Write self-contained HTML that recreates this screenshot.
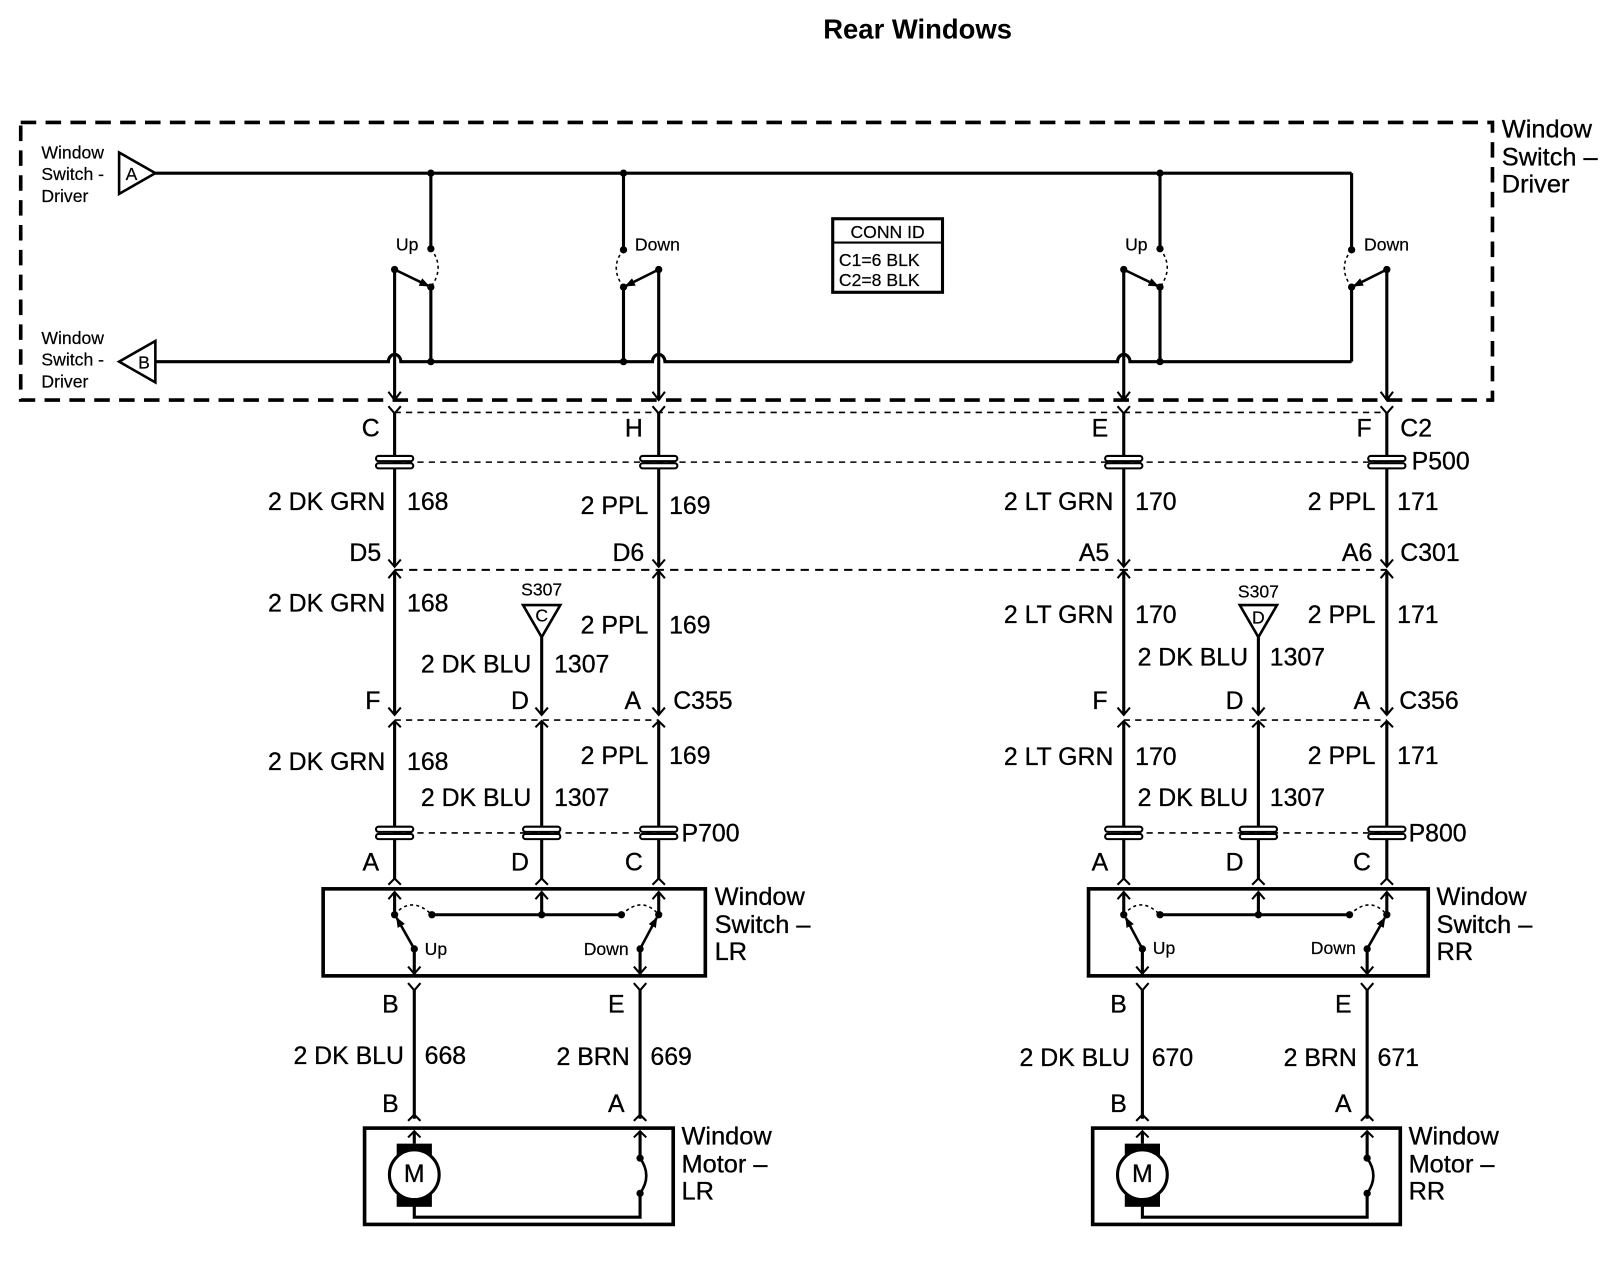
<!DOCTYPE html>
<html><head><meta charset="utf-8"><style>
html,body{margin:0;padding:0;background:#fff}
svg{display:block}
text{font-family:"Liberation Sans",Arial,sans-serif;fill:#000;dominant-baseline:central}
.L{font-size:24px;stroke:#000;stroke-width:0.3}
.S{font-size:17px;stroke:#000;stroke-width:0.2}
.M{font-size:24.5px;stroke:#000;stroke-width:0.3}
</style></head><body>
<svg width="1624" height="1264" viewBox="0 0 1568 1220" xmlns="http://www.w3.org/2000/svg">
<defs>
<marker id="ah" markerWidth="10" markerHeight="10" refX="9" refY="5" orient="auto" markerUnits="userSpaceOnUse"><path d="M0,1 L10,5 L0,9 Z" fill="#000"/></marker>
</defs>
<rect width="1568" height="1220" fill="#fff"/>
<text x="886" y="28" text-anchor="middle" style="font-size:26.5px;font-weight:bold">Rear Windows</text>

<rect x="20" y="118" width="1421" height="268" fill="none" stroke="#000" stroke-width="3.5" stroke-dasharray="15 9"/>
<g class="S"><text x="40" y="147">Window</text><text x="40" y="168">Switch -</text><text x="40" y="189">Driver</text>
<text x="40" y="326">Window</text><text x="40" y="347">Switch -</text><text x="40" y="368">Driver</text>
<text x="127" y="168" text-anchor="middle">A</text><text x="139" y="350" text-anchor="middle">B</text></g>
<g class="M"><text x="1450" y="125">Window</text><text x="1450" y="152">Switch –</text><text x="1450" y="178">Driver</text></g>

<g stroke="#000" stroke-width="3" fill="none">
<polygon points="115,147 150,167 115,187" stroke-width="2.5"/>
<polygon points="150,329 115,349 150,369" stroke-width="2.5"/>
<line x1="150" y1="167" x2="1305" y2="167"/>
<path d="M150 349 H375 A6 7 0 0 1 387 349 H630 A6 7 0 0 1 642 349 H1079 A6 7 0 0 1 1091 349 H1305"/>
<path d="M416 167 V240 M416 277 V349 M602 167 V241 M602 277 V349 M1120 167 V240 M1120 277 V349 M1305 167 V241 M1305 277 V349"/>
<path d="M416 240 Q430 258 416 277 M602 241 Q588 258 602 277 M1120 240 Q1134 258 1120 277 M1305 241 Q1291 258 1305 277" stroke-width="1.5" stroke-dasharray="3 3"/>
<line x1="381" y1="260" x2="414" y2="276" stroke-width="2.5" marker-end="url(#ah)"/>
<line x1="636" y1="260" x2="604" y2="276" stroke-width="2.5" marker-end="url(#ah)"/>
<line x1="1085" y1="260" x2="1118" y2="276" stroke-width="2.5" marker-end="url(#ah)"/>
<line x1="1339" y1="260" x2="1307" y2="276" stroke-width="2.5" marker-end="url(#ah)"/>
<path d="M381 260 V386 M636 260 V386 M1085 260 V386 M1339 260 V386"/>
<path d="M375 378 L381 386 L387 378 M630 378 L636 386 L642 378 M1079 378 L1085 386 L1091 378 M1333 378 L1339 386 L1345 378" stroke-width="2"/>
<path d="M381 398 V546 M636 398 V546 M1085 398 V546 M1339 398 V546"/>
<path d="M375 392 L381 399 L387 392 M630 392 L636 399 L642 392 M1079 392 L1085 399 L1091 392 M1333 392 L1339 399 L1345 392" stroke-width="2"/>
<line x1="381" y1="398" x2="1339" y2="398" stroke-width="1.5" stroke-dasharray="6 5"/>
<line x1="381" y1="446" x2="1339" y2="446" stroke-width="1.5" stroke-dasharray="6 5"/>
<line x1="381" y1="550" x2="1339" y2="550" stroke-width="2" stroke-dasharray="8 6"/>
<path d="M375 540 L381 547 L387 540 M630 540 L636 547 L642 540 M1079 540 L1085 547 L1091 540 M1333 540 L1339 547 L1345 540" stroke-width="2"/>
<path d="M375 558 L381 551 L387 558 M630 558 L636 551 L642 558 M1079 558 L1085 551 L1091 558 M1333 558 L1339 551 L1345 558" stroke-width="2"/>
<path d="M381 551 V690 M636 551 V690 M1085 551 V690 M1339 551 V690 M523 615 V690 M1215 615 V690"/>
<polygon points="505,584 541,584 523,615" stroke-width="2.5"/>
<polygon points="1197,584 1233,584 1215,615" stroke-width="2.5"/>
<path d="M375 683 L381 690 L387 683 M630 683 L636 690 L642 683 M517 683 L523 690 L529 683 M1079 683 L1085 690 L1091 683 M1333 683 L1339 690 L1345 683 M1209 683 L1215 690 L1221 683" stroke-width="2"/>
<line x1="381" y1="695" x2="636" y2="695" stroke-width="1.5" stroke-dasharray="6 5"/>
<line x1="1085" y1="695" x2="1339" y2="695" stroke-width="1.5" stroke-dasharray="6 5"/>
<path d="M375 702 L381 696 L387 702 M630 702 L636 696 L642 702 M517 702 L523 696 L529 702 M1079 702 L1085 696 L1091 702 M1333 702 L1339 696 L1345 702 M1209 702 L1215 696 L1221 702" stroke-width="2"/>
<path d="M381 696 V848 M636 696 V848 M523 696 V848 M1085 696 V848 M1339 696 V848 M1215 696 V848"/>
<line x1="381" y1="804" x2="636" y2="804" stroke-width="1.5" stroke-dasharray="6 5"/>
<line x1="1085" y1="804" x2="1339" y2="804" stroke-width="1.5" stroke-dasharray="6 5"/>
<path d="M375 854 L381 848 L387 854 M517 854 L523 848 L529 854 M630 854 L636 848 L642 854 M1079 854 L1085 848 L1091 854 M1209 854 L1215 848 L1221 854 M1333 854 L1339 848 L1345 854" stroke-width="2"/>

<rect x="312" y="858" width="369" height="84" stroke-width="3.5"/>
<rect x="1051" y="858" width="328" height="84" stroke-width="3.5"/>
<path d="M381 883 V862 M523 883 V862 M636 883 V862 M417 883 H600 M1085 883 V862 M1215 883 V862 M1339 883 V862 M1120 883 H1303"/>
<path d="M375 868 L381 861 L387 868 M517 868 L523 861 L529 868 M630 868 L636 861 L642 868 M1079 868 L1085 861 L1091 868 M1209 868 L1215 861 L1221 868 M1333 868 L1339 861 L1345 868" stroke-width="2"/>
<path d="M381 883 Q397 864 417 883 M600 883 Q620 864 636 883 M1085 883 Q1101 864 1120 883 M1303 883 Q1323 864 1339 883" stroke-width="1.5" stroke-dasharray="3 3"/>
<line x1="400" y1="916" x2="383" y2="886" stroke-width="2.5" marker-end="url(#ah)"/>
<line x1="618" y1="916" x2="634" y2="886" stroke-width="2.5" marker-end="url(#ah)"/>
<line x1="1103" y1="916" x2="1087" y2="886" stroke-width="2.5" marker-end="url(#ah)"/>
<line x1="1320" y1="916" x2="1337" y2="886" stroke-width="2.5" marker-end="url(#ah)"/>
<path d="M400 916 V940 M618 916 V940 M1103 916 V940 M1320 916 V940"/>
<path d="M394 933 L400 940 L406 933 M612 933 L618 940 L624 933 M1097 933 L1103 940 L1109 933 M1314 933 L1320 940 L1326 933" stroke-width="2"/>
<path d="M400 955 V1080 M618 955 V1080 M1103 955 V1080 M1320 955 V1080"/>
<path d="M394 949 L400 956 L406 949 M612 949 L618 956 L624 949 M1097 949 L1103 956 L1109 949 M1314 949 L1320 956 L1326 949" stroke-width="2"/>
<path d="M394 1082 L400 1076 L406 1082 M612 1082 L618 1076 L624 1082 M1097 1082 L1103 1076 L1109 1082 M1314 1082 L1320 1076 L1326 1082" stroke-width="2"/>
<rect x="352" y="1089" width="298" height="93" stroke-width="3.5"/>
<rect x="1055" y="1089" width="297" height="93" stroke-width="3.5"/>
<path d="M400 1092 V1104 M400 1164 V1175 H618 V1152 M618 1118 V1092 M1103 1092 V1104 M1103 1164 V1175 H1320 V1152 M1320 1118 V1092"/>
<path d="M394 1098 L400 1092 L406 1098 M612 1098 L618 1092 L624 1098 M1097 1098 L1103 1092 L1109 1098 M1314 1098 L1320 1092 L1326 1098" stroke-width="2"/>
<path d="M618 1118 Q630 1135 618 1152 M1320 1118 Q1332 1135 1320 1152" stroke-width="2.5"/>
</g>
<g fill="#000">
<rect x="383" y="1104" width="34" height="12"/><rect x="383" y="1153" width="34" height="12"/>
<rect x="1086" y="1104" width="34" height="12"/><rect x="1086" y="1153" width="34" height="12"/>
<circle cx="400" cy="1134" r="23" fill="#fff"/><circle cx="1103" cy="1134" r="23" fill="#fff"/>
</g>
<g fill="none" stroke="#000" stroke-width="3"><circle cx="400" cy="1134" r="24"/><circle cx="1103" cy="1134" r="24"/></g>

<g fill="#000">
<circle cx="416" cy="167" r="3.5"/><circle cx="602" cy="167" r="3.5"/><circle cx="1120" cy="167" r="3.5"/>
<circle cx="416" cy="240" r="3.5"/><circle cx="416" cy="277" r="3.5"/><circle cx="416" cy="349" r="3.5"/>
<circle cx="602" cy="241" r="3.5"/><circle cx="602" cy="277" r="3.5"/><circle cx="602" cy="349" r="3.5"/>
<circle cx="1120" cy="240" r="3.5"/><circle cx="1120" cy="277" r="3.5"/><circle cx="1120" cy="349" r="3.5"/>
<circle cx="1305" cy="241" r="3.5"/><circle cx="1305" cy="277" r="3.5"/>
<circle cx="381" cy="260" r="3.5"/><circle cx="636" cy="260" r="3.5"/><circle cx="1085" cy="260" r="3.5"/><circle cx="1339" cy="260" r="3.5"/>
<circle cx="381" cy="883" r="3.5"/><circle cx="417" cy="883" r="3.5"/><circle cx="523" cy="883" r="3.5"/><circle cx="600" cy="883" r="3.5"/><circle cx="636" cy="883" r="3.5"/>
<circle cx="1085" cy="883" r="3.5"/><circle cx="1120" cy="883" r="3.5"/><circle cx="1215" cy="883" r="3.5"/><circle cx="1303" cy="883" r="3.5"/><circle cx="1339" cy="883" r="3.5"/>
<circle cx="400" cy="916" r="3.5"/><circle cx="618" cy="916" r="3.5"/><circle cx="1103" cy="916" r="3.5"/><circle cx="1320" cy="916" r="3.5"/>
<circle cx="618" cy="1118" r="3.5"/><circle cx="618" cy="1152" r="3.5"/><circle cx="1320" cy="1118" r="3.5"/><circle cx="1320" cy="1152" r="3.5"/>
</g>
<g fill="#fff" stroke="#000" stroke-width="2">
<rect x="363" y="440" width="36" height="5" rx="2.5"/><rect x="363" y="447" width="36" height="5" rx="2.5"/>
<rect x="618" y="440" width="36" height="5" rx="2.5"/><rect x="618" y="447" width="36" height="5" rx="2.5"/>
<rect x="1067" y="440" width="36" height="5" rx="2.5"/><rect x="1067" y="447" width="36" height="5" rx="2.5"/>
<rect x="1321" y="440" width="36" height="5" rx="2.5"/><rect x="1321" y="447" width="36" height="5" rx="2.5"/>
<rect x="363" y="798" width="36" height="5" rx="2.5"/><rect x="363" y="805" width="36" height="5" rx="2.5"/>
<rect x="505" y="798" width="36" height="5" rx="2.5"/><rect x="505" y="805" width="36" height="5" rx="2.5"/>
<rect x="618" y="798" width="36" height="5" rx="2.5"/><rect x="618" y="805" width="36" height="5" rx="2.5"/>
<rect x="1067" y="798" width="36" height="5" rx="2.5"/><rect x="1067" y="805" width="36" height="5" rx="2.5"/>
<rect x="1197" y="798" width="36" height="5" rx="2.5"/><rect x="1197" y="805" width="36" height="5" rx="2.5"/>
<rect x="1321" y="798" width="36" height="5" rx="2.5"/><rect x="1321" y="805" width="36" height="5" rx="2.5"/>
</g>

<rect x="804" y="211" width="106" height="71" fill="none" stroke="#000" stroke-width="3"/>
<line x1="804" y1="234" x2="910" y2="234" stroke="#000" stroke-width="2"/>
<g class="S"><text x="857" y="224" text-anchor="middle">CONN ID</text><text x="810" y="251">C1=6 BLK</text><text x="810" y="270">C2=8 BLK</text>
<text x="404" y="236" text-anchor="end">Up</text><text x="613" y="236">Down</text>
<text x="1108" y="236" text-anchor="end">Up</text><text x="1317" y="236">Down</text>
<text x="523" y="569" text-anchor="middle">S307</text><text x="523" y="594" text-anchor="middle">C</text>
<text x="1215" y="571" text-anchor="middle">S307</text><text x="1215" y="596" text-anchor="middle">D</text>
<text x="410" y="916">Up</text><text x="607" y="916" text-anchor="end">Down</text>
<text x="1113" y="915">Up</text><text x="1309" y="915" text-anchor="end">Down</text></g>

<g class="L">
<text x="358" y="414" text-anchor="middle">C</text><text x="612" y="414" text-anchor="middle">H</text><text x="1062" y="414" text-anchor="middle">E</text><text x="1317" y="414" text-anchor="middle">F</text><text x="1352" y="414">C2</text>
<text x="1363" y="446">P500</text>
<text x="372" y="485" text-anchor="end">2 DK GRN</text><text x="393" y="485">168</text>
<text x="626" y="489" text-anchor="end">2 PPL</text><text x="646" y="489">169</text>
<text x="1075" y="485" text-anchor="end">2 LT GRN</text><text x="1096" y="485">170</text>
<text x="1328" y="485" text-anchor="end">2 PPL</text><text x="1349" y="485">171</text>
<text x="368" y="534" text-anchor="end">D5</text><text x="622" y="534" text-anchor="end">D6</text><text x="1071" y="534" text-anchor="end">A5</text><text x="1325" y="534" text-anchor="end">A6</text><text x="1352" y="534">C301</text>
<text x="372" y="583" text-anchor="end">2 DK GRN</text><text x="393" y="583">168</text>
<text x="626" y="604" text-anchor="end">2 PPL</text><text x="646" y="604">169</text>
<text x="513" y="642" text-anchor="end">2 DK BLU</text><text x="535" y="642">1307</text>
<text x="1075" y="594" text-anchor="end">2 LT GRN</text><text x="1096" y="594">170</text>
<text x="1328" y="594" text-anchor="end">2 PPL</text><text x="1349" y="594">171</text>
<text x="1205" y="635" text-anchor="end">2 DK BLU</text><text x="1226" y="635">1307</text>
<text x="360" y="677" text-anchor="middle">F</text><text x="502" y="677" text-anchor="middle">D</text><text x="611" y="677" text-anchor="middle">A</text><text x="650" y="677">C355</text>
<text x="1062" y="677" text-anchor="middle">F</text><text x="1192" y="677" text-anchor="middle">D</text><text x="1315" y="677" text-anchor="middle">A</text><text x="1351" y="677">C356</text>
<text x="372" y="736" text-anchor="end">2 DK GRN</text><text x="393" y="736">168</text>
<text x="626" y="730" text-anchor="end">2 PPL</text><text x="646" y="730">169</text>
<text x="513" y="771" text-anchor="end">2 DK BLU</text><text x="535" y="771">1307</text>
<text x="1075" y="731" text-anchor="end">2 LT GRN</text><text x="1096" y="731">170</text>
<text x="1328" y="730" text-anchor="end">2 PPL</text><text x="1349" y="730">171</text>
<text x="1205" y="771" text-anchor="end">2 DK BLU</text><text x="1226" y="771">1307</text>
<text x="658" y="805">P700</text><text x="1360" y="805">P800</text>
<text x="358" y="833" text-anchor="middle">A</text><text x="502" y="833" text-anchor="middle">D</text><text x="612" y="833" text-anchor="middle">C</text>
<text x="1062" y="833" text-anchor="middle">A</text><text x="1192" y="833" text-anchor="middle">D</text><text x="1315" y="833" text-anchor="middle">C</text>
<text x="377" y="970" text-anchor="middle">B</text><text x="595" y="970" text-anchor="middle">E</text>
<text x="1080" y="970" text-anchor="middle">B</text><text x="1297" y="970" text-anchor="middle">E</text>
<text x="390" y="1020" text-anchor="end">2 DK BLU</text><text x="410" y="1020">668</text>
<text x="608" y="1021" text-anchor="end">2 BRN</text><text x="628" y="1021">669</text>
<text x="1091" y="1022" text-anchor="end">2 DK BLU</text><text x="1112" y="1022">670</text>
<text x="1310" y="1022" text-anchor="end">2 BRN</text><text x="1330" y="1022">671</text>
<text x="377" y="1066" text-anchor="middle">B</text><text x="595" y="1066" text-anchor="middle">A</text>
<text x="1080" y="1066" text-anchor="middle">B</text><text x="1297" y="1066" text-anchor="middle">A</text>
<text x="400" y="1134" text-anchor="middle">M</text><text x="1103" y="1134" text-anchor="middle">M</text>
</g>
<g class="M">
<text x="690" y="866">Window</text><text x="690" y="893">Switch –</text><text x="690" y="919">LR</text>
<text x="1387" y="866">Window</text><text x="1387" y="893">Switch –</text><text x="1387" y="919">RR</text>
<text x="658" y="1097">Window</text><text x="658" y="1124">Motor –</text><text x="658" y="1150">LR</text>
<text x="1360" y="1097">Window</text><text x="1360" y="1124">Motor –</text><text x="1360" y="1150">RR</text>
</g>
</svg>
</body></html>
